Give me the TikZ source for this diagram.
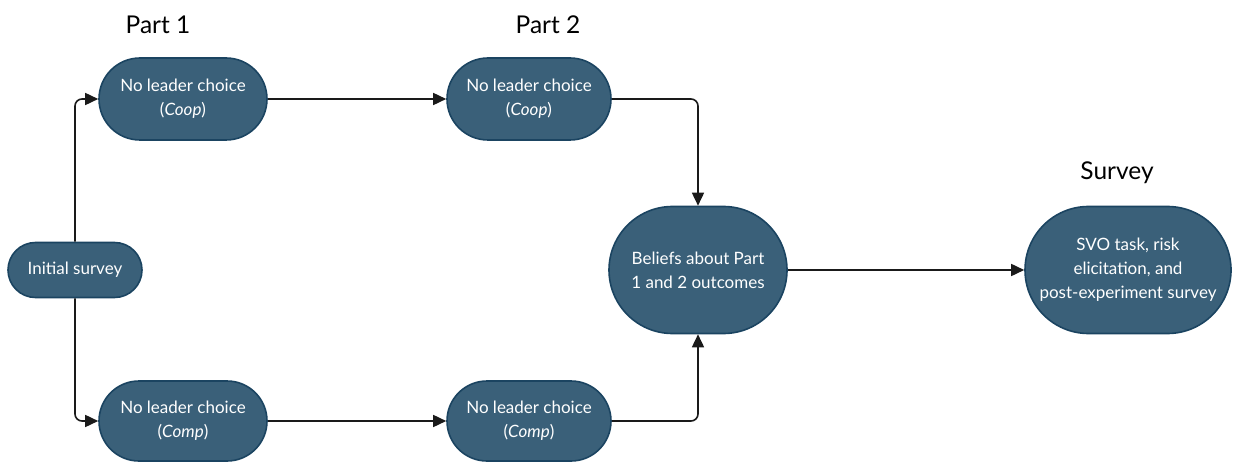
\documentclass[tikz,border=0pt]{standalone}
\usepackage{fontspec}
\setmainfont{Lato}
\usetikzlibrary{arrows.meta,shapes.misc}
\definecolor{boxfill}{HTML}{3A6079}
\definecolor{boxline}{HTML}{1B4461}
\definecolor{lineclr}{HTML}{1A1A1A}
\begin{document}
\begin{tikzpicture}[x=1pt,y=-1pt,
  pill/.style={rounded rectangle, fill=boxfill, draw=boxline, line width=1.6pt,
    text=white, font=\fontsize{17}{24}\selectfont, align=center,
    minimum width=#1, inner sep=1pt},
  conn/.style={draw=lineclr, line width=1.6pt, rounded corners=7pt,
    -{Triangle[length=13pt,width=12pt]}},
  title/.style={font=\fontsize{24.5}{28}\selectfont, text=black}]
\useasboundingbox (0,0) rectangle (1233,462);
\node[pill=136pt, minimum height=55pt] (init) at (75,270) {Initial survey};
\node[pill=170pt, minimum height=82pt] (t1) at (183,99) {No leader choice\\(\textit{Coop})};
\node[pill=166pt, minimum height=82pt] (t2) at (529,99) {No leader choice\\(\textit{Coop})};
\node[pill=170pt, minimum height=80pt] (b1) at (183,421) {No leader choice\\(\textit{Comp})};
\node[pill=166pt, minimum height=80pt] (b2) at (529,421) {No leader choice\\(\textit{Comp})};
\node[pill=180pt, minimum height=127pt] (bel) at (698,270) {Beliefs about Part\\1 and 2 outcomes};
\node[pill=208pt, minimum height=127pt] (svo) at (1128,270) {SVO task, risk\\elicitation, and\\post-experiment survey};
\node[title] (p1) at (158,25) {Part 1};
\node[title] (p2) at (548,25) {Part 2};
\node[title] (sv) at (1117,173) {Survey};
\draw[conn] (init.north) |- (t1.west);
\draw[conn] (init.south) |- (b1.west);
\draw[conn] (t1.east) -- (t2.west);
\draw[conn] (b1.east) -- (b2.west);
\draw[conn] (t2.east) -| (bel.north);
\draw[conn] (b2.east) -| (bel.south);
\draw[conn] (bel.east) -- (svo.west);
\end{tikzpicture}
\end{document}
